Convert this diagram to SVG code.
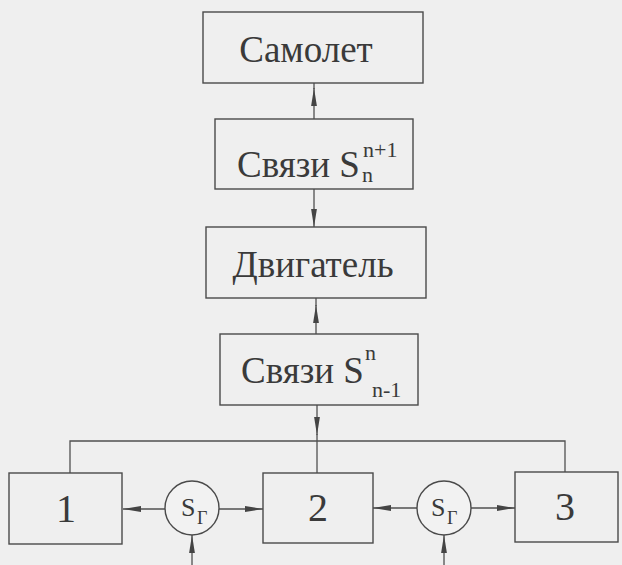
<svg xmlns="http://www.w3.org/2000/svg" width="622" height="565" viewBox="0 0 622 565">
<style>
.bg{fill:#efefef}
.box{fill:none;stroke:#4a4a4a;stroke-width:1.4}
.circ{fill:#f2f2f2;stroke:#4a4a4a;stroke-width:1.4}
.ln{fill:none;stroke:#505050;stroke-width:1.3}
text{font-family:'Liberation Serif','DejaVu Serif','Times New Roman',serif;fill:#3a3a3a}
.big{font-size:37px}
.num{font-size:40px}
.sm{font-size:22px}
.cs{font-size:26px}
.cg{font-size:18px}
</style>
<defs>
<marker id="ah" viewBox="0 0 18 7" markerWidth="18" markerHeight="7" refX="18" refY="3.5" orient="auto" markerUnits="userSpaceOnUse">
<path d="M0,0.6 L18,3.5 L0,6.4 z" fill="#444"/>
</marker>
</defs>
<rect class="bg" x="0" y="0" width="622" height="565"/>

<g id="connectors">
<path class="ln" d="M314,119 V88" marker-end="url(#ah)"/>
<path class="ln" d="M314,89 V83"/>
<path class="ln" d="M314,189 V227" marker-end="url(#ah)"/>
<path class="ln" d="M316,334 V305" marker-end="url(#ah)"/>
<path class="ln" d="M316,306 V298"/>
<path class="ln" d="M317,405 V435" marker-end="url(#ah)"/>
<path class="ln" d="M317,434 V473"/>
<path class="ln" d="M70,473 V441 H565 V472"/>
<path class="ln" d="M165,509 H123" marker-end="url(#ah)"/>
<path class="ln" d="M219,509 H263" marker-end="url(#ah)"/>
<path class="ln" d="M192,565 V535" marker-end="url(#ah)"/>
<path class="ln" d="M417,508 H373" marker-end="url(#ah)"/>
<path class="ln" d="M471,508 H515" marker-end="url(#ah)"/>
<path class="ln" d="M444,565 V535" marker-end="url(#ah)"/>
</g>

<g id="samolet">
<rect class="box" x="203" y="12" width="220" height="71"/>
<text class="big" font-family="Liberation Serif, serif" x="306" y="62" text-anchor="middle">Самолет</text>
</g>

<g id="svyazi1">
<rect class="box" x="215" y="119" width="198" height="70"/>
<text class="big" font-family="Liberation Serif, serif" x="237" y="177">Связи S</text>
<text class="sm" font-family="Liberation Serif, serif" x="363" y="157">n+1</text>
<text class="sm" font-family="Liberation Serif, serif" x="362" y="182">n</text>
</g>

<g id="dvigatel">
<rect class="box" x="206" y="227" width="220" height="71"/>
<text class="big" font-family="Liberation Serif, serif" x="313" y="277" text-anchor="middle">Двигатель</text>
</g>

<g id="svyazi2">
<rect class="box" x="220" y="334" width="198" height="71"/>
<text class="big" font-family="Liberation Serif, serif" x="241" y="383">Связи S</text>
<text class="sm" font-family="Liberation Serif, serif" x="365" y="360">n</text>
<text class="sm" font-family="Liberation Serif, serif" x="372" y="397">n-1</text>
</g>

<g id="box1">
<rect class="box" x="9" y="473" width="113" height="71"/>
<text class="num" font-family="Liberation Serif, serif" x="66" y="522" text-anchor="middle">1</text>
</g>

<g id="box2">
<rect class="box" x="263" y="473" width="110" height="70"/>
<text class="num" font-family="Liberation Serif, serif" x="318" y="521" text-anchor="middle">2</text>
</g>

<g id="box3">
<rect class="box" x="515" y="472" width="103" height="70"/>
<text class="num" font-family="Liberation Serif, serif" x="565" y="520" text-anchor="middle">3</text>
</g>

<g id="sg1">
<circle class="circ" cx="192" cy="508" r="27"/>
<text class="cs" font-family="Liberation Serif, serif" x="181" y="516">S</text>
<text class="cg" font-family="Liberation Serif, serif" x="197" y="524">Г</text>
</g>

<g id="sg2">
<circle class="circ" cx="444" cy="508" r="27"/>
<text class="cs" font-family="Liberation Serif, serif" x="431" y="516">S</text>
<text class="cg" font-family="Liberation Serif, serif" x="447" y="524">Г</text>
</g>
</svg>
